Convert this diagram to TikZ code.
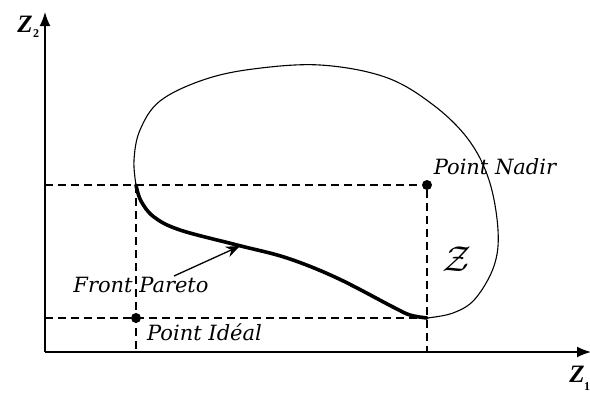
\documentclass[tikz,border=0pt]{standalone}
\usepackage{fix-cm}
\usepackage{fontspec}
\setmainfont{DejaVu Serif}
\newfontfamily\axfont{Liberation Serif}
\usetikzlibrary{arrows.meta}
\begin{document}
\begin{tikzpicture}[x=1pt,y=-1pt,
  axis/.style={line width=1.6pt,-{Latex[length=14pt,width=11pt]}},
  guide/.style={line width=1.5pt,dash pattern=on 8pt off 5pt},
  dot/.style={circle,fill=black,inner sep=0pt,minimum size=10pt},
  lbl/.style={font=\itshape\fontsize{21}{24}\selectfont,inner sep=0pt},
  axlbl/.style={font=\axfont\bfseries\itshape\fontsize{25}{27}\selectfont,inner sep=0pt},
  sub/.style={font=\axfont\bfseries\fontsize{12}{13}\selectfont,inner sep=0pt},
  boundary/.style={line width=1.1pt},
  pareto/.style={line width=3.6pt},
  pointer/.style={line width=1.3pt,-{Stealth[length=14pt,width=11pt]}}
]
\useasboundingbox (0,0) rectangle (590,394);
\fill[white] (0,0) rectangle (590,394);
% axes
\coordinate (O) at (45,352);
\coordinate (ytip) at (45,12);
\coordinate (xtip) at (591,352);
\draw[axis] (O) -- (ytip);
\draw[axis] (O) -- (xtip);
\node[axlbl] (z2) at (25,24) {Z};
\node[sub] (z2s) at (36,34) {2};
\node[axlbl] (z1) at (577,374) {Z};
\node[sub] (z1s) at (587,387) {1};
% key points
\coordinate (yN) at (45,185);
\coordinate (yI) at (45,318);
\coordinate (xI) at (136,352);
\coordinate (xN) at (427,352);
\coordinate (A) at (136,185);
\coordinate (B) at (427,318);
\node[dot] (nadir) at (427,185) {};
\node[dot] (ideal) at (136,318) {};
% guides
\draw[guide] (yN) -- (nadir);
\draw[guide] (yI) -- (B);
\draw[guide] (A) -- (xI);
\draw[guide] (nadir) -- (xN);
% feasible region boundary
\draw[boundary] plot[smooth,tension=0.6] coordinates {(136,185) (134,160) (140,130) (160,101) (203,80) (253,69) (320,65) (385,77) (432,104) (468,139) (489,180) (498,230) (494,266) (475,299) (453,313) (427,318)};
% Pareto front
\draw[pareto,line cap=round] plot[smooth,tension=0.6] coordinates {(136,185) (141,201) (154,217) (180,230) (237,245) (287,258) (337,278) (393,307) (410,315) (427,318)};
% labels
\node[lbl] (fp) at (141,285) {Front Pareto};
\coordinate (fpa) at (174,276);
\coordinate (fpt) at (240,246);
\draw[pointer] (fpa) -- (fpt);
\node[lbl,anchor=west] (pi) at (147,332) {Point Idéal};
\node[lbl] (pn) at (495,167) {Point Nadir};
\node[font=\fontsize{36}{38}\selectfont,inner sep=0pt] (zz) at (457,259) {$\mathcal{Z}$};
\end{tikzpicture}
\end{document}
